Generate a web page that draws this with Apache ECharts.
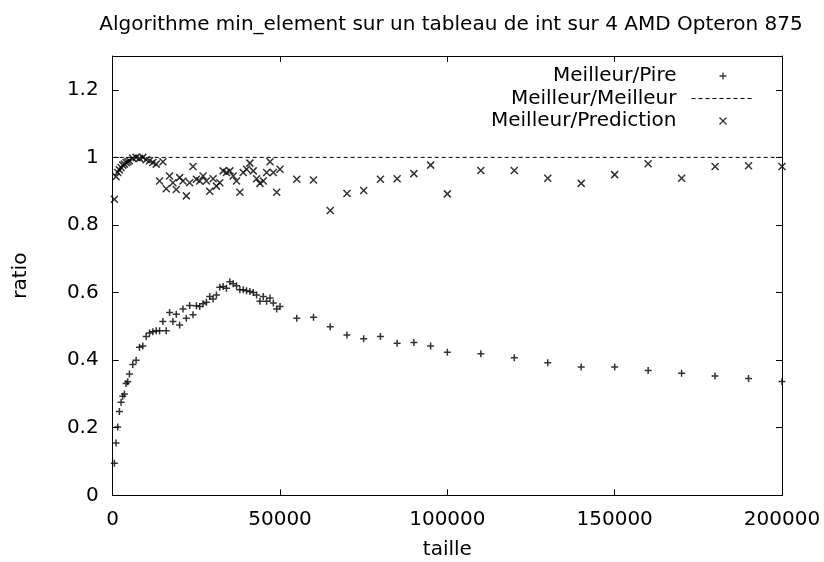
<!DOCTYPE html>
<html>
<head>
<meta charset="utf-8">
<script src="https://cdn.jsdelivr.net/npm/echarts@6/dist/echarts.min.js"></script>
<style>
html,body{margin:0;padding:0;background:#fff;}
#chart{width:824px;height:562px;}
</style>
</head>
<body>
<div id="chart"></div>
<script>
// Array sizes (taille)
var sizes = [
  500, 1000, 1500, 2000, 2500, 3000, 3500, 4000, 4500, 5000,
  6000, 7000, 8000, 9000, 10000, 11000, 12000, 13000, 14000, 15000,
  16000, 17000, 18000, 19000, 20000, 21000, 22000, 23000, 24000, 25000,
  26000, 27000, 28000, 29000, 30000, 31000, 32000, 33000, 34000, 35000,
  36000, 37000, 38000, 39000, 40000, 41000, 42000, 43000, 44000, 45000,
  46000, 47000, 48000, 49000, 50000,
  55000, 60000, 65000, 70000, 75000, 80000, 85000, 90000, 95000, 100000,
  110000, 120000, 130000, 140000, 150000, 160000, 170000, 180000, 190000, 200000
];
// Meilleur/Pire ratio
var pireValues = [
  0.095, 0.155, 0.202, 0.248, 0.275, 0.293, 0.300, 0.331, 0.336, 0.359,
  0.387, 0.400, 0.438, 0.442, 0.470, 0.480, 0.484, 0.487, 0.487, 0.514,
  0.487, 0.541, 0.514, 0.536, 0.504, 0.551, 0.524, 0.562, 0.534, 0.561,
  0.559, 0.567, 0.571, 0.588, 0.581, 0.593, 0.616, 0.618, 0.613, 0.632,
  0.626, 0.620, 0.608, 0.608, 0.605, 0.603, 0.600, 0.593, 0.574, 0.588,
  0.574, 0.584, 0.569, 0.551, 0.559,
  0.524, 0.527, 0.499, 0.474, 0.463, 0.470, 0.450, 0.452, 0.442, 0.423,
  0.419, 0.407, 0.392, 0.380, 0.380, 0.369, 0.361, 0.353, 0.346, 0.337
];
// Meilleur/Prediction ratio
var predictionValues = [
  0.876, 0.943, 0.955, 0.963, 0.970, 0.977, 0.980, 0.985, 0.987, 0.990,
  0.997, 1.000, 0.997, 1.000, 0.993, 0.990, 0.985, 0.980, 0.930, 0.987,
  0.907, 0.945, 0.925, 0.905, 0.940, 0.930, 0.886, 0.925, 0.973, 0.935,
  0.930, 0.945, 0.930, 0.900, 0.937, 0.915, 0.925, 0.960, 0.955, 0.960,
  0.945, 0.930, 0.897, 0.955, 0.965, 0.983, 0.960, 0.937, 0.923, 0.930,
  0.955, 0.987, 0.955, 0.897, 0.965,
  0.935, 0.933, 0.843, 0.893, 0.902, 0.935, 0.937, 0.952, 0.977, 0.892,
  0.961, 0.961, 0.938, 0.923, 0.949, 0.981, 0.938, 0.973, 0.975, 0.973
];
// Meilleur/Meilleur reference line
var meilleurX = [0, 200000];
var meilleurY = [1, 1];

var xTicks = [0, 50000, 100000, 150000, 200000];
var yTicks = ['0', '0.2', '0.4', '0.6', '0.8', '1', '1.2'];

var FONT = 'DejaVu Sans';
function pairs(xs, ys) { return xs.map(function (x, i) { return [x, ys[i]]; }); }

var plusPath = 'path://M0,5L10,5M5,0L5,10';
var crossPath = 'path://M0,0L10,10M0,10L10,0';

var chart = echarts.init(document.getElementById('chart'));
var axisLine = { show: true, onZero: false, lineStyle: { color: '#000', width: 1 } };
var tick = { show: true, inside: true, length: 6, lineStyle: { color: '#000', width: 1 } };
var markStyle = { color: 'rgba(0,0,0,0)', borderColor: '#000', borderWidth: 1.5 };

chart.setOption({
  animation: false,
  backgroundColor: '#fff',
  title: {
    text: 'Algorithme min_element sur un tableau de int sur 4 AMD Opteron 875',
    left: 446, top: 10, textAlign: 'center',
    textStyle: { fontFamily: FONT, fontSize: 20, fontWeight: 'normal', color: '#000' }
  },
  grid: { left: 112.7, top: 56, right: 42, bottom: 66.7, containLabel: false, outerBoundsMode: 'none' },
  legend: {
    orient: 'vertical', right: 69, top: 65, padding: 0,
    align: 'right', itemWidth: 63, itemHeight: 7, itemGap: 0.5,
    textStyle: { fontFamily: FONT, fontSize: 20, color: '#000', lineHeight: 22, padding: [0, 10, 0, 0] },
    itemStyle: { borderWidth: 1.3 },
    data: [
      { name: 'Meilleur/Pire', icon: plusPath },
      { name: 'Meilleur/Meilleur', itemStyle: { color: 'rgba(0,0,0,0)', borderWidth: 0, opacity: 0 },
        lineStyle: { width: 1, type: [4, 3], color: '#000' } },
      { name: 'Meilleur/Prediction', icon: crossPath }
    ]
  },
  xAxis: [{
    type: 'value', min: xTicks[0], max: xTicks[xTicks.length - 1], interval: xTicks[1] - xTicks[0],
    position: 'bottom', axisLine: axisLine, axisTick: tick, splitLine: { show: false },
    axisLabel: { fontFamily: FONT, fontSize: 20, color: '#000', margin: 14,
      formatter: function (v) { return String(Math.round(v)); } },
    name: 'taille', nameLocation: 'middle', nameGap: 44,
    nameTextStyle: { fontFamily: FONT, fontSize: 20, color: '#000' }
  }, {
    type: 'value', min: xTicks[0], max: xTicks[xTicks.length - 1], interval: xTicks[1] - xTicks[0],
    position: 'top', axisLine: axisLine, axisTick: tick, splitLine: { show: false },
    axisLabel: { show: false }
  }],
  yAxis: [{
    type: 'value', min: 0, max: 1.3, interval: 0.2,
    position: 'left', axisLine: axisLine, axisTick: tick, splitLine: { show: false },
    axisLabel: {
      fontFamily: FONT, fontSize: 20, color: '#000', margin: 14, showMaxLabel: false,
      formatter: function (v) { var i = Math.round(v / 0.2); return (Math.abs(v - i * 0.2) < 1e-6 && yTicks[i] !== undefined) ? yTicks[i] : ''; }
    },
    name: 'ratio', nameLocation: 'middle', nameRotate: 90, nameGap: 82,
    nameTextStyle: { fontFamily: FONT, fontSize: 20, color: '#000' }
  }, {
    type: 'value', min: 0, max: 1.3, interval: 0.2,
    position: 'right', axisLine: axisLine, axisTick: tick, splitLine: { show: false },
    axisLabel: { show: false }
  }],
  series: [{
    name: 'Meilleur/Pire', type: 'scatter', xAxisIndex: 0, yAxisIndex: 0,
    symbol: plusPath, symbolSize: 7,
    itemStyle: markStyle,
    data: pairs(sizes, pireValues)
  }, {
    name: 'Meilleur/Meilleur', type: 'line', xAxisIndex: 0, yAxisIndex: 0,
    symbol: 'none', showSymbol: false, silent: true,
    lineStyle: { color: '#000', width: 1, type: [4, 3] },
    itemStyle: { color: '#000' },
    data: pairs(meilleurX, meilleurY)
  }, {
    name: 'Meilleur/Prediction', type: 'scatter', xAxisIndex: 0, yAxisIndex: 0,
    symbol: crossPath, symbolSize: 7,
    itemStyle: markStyle,
    data: pairs(sizes, predictionValues)
  }]
});
</script>
</body>
</html>
